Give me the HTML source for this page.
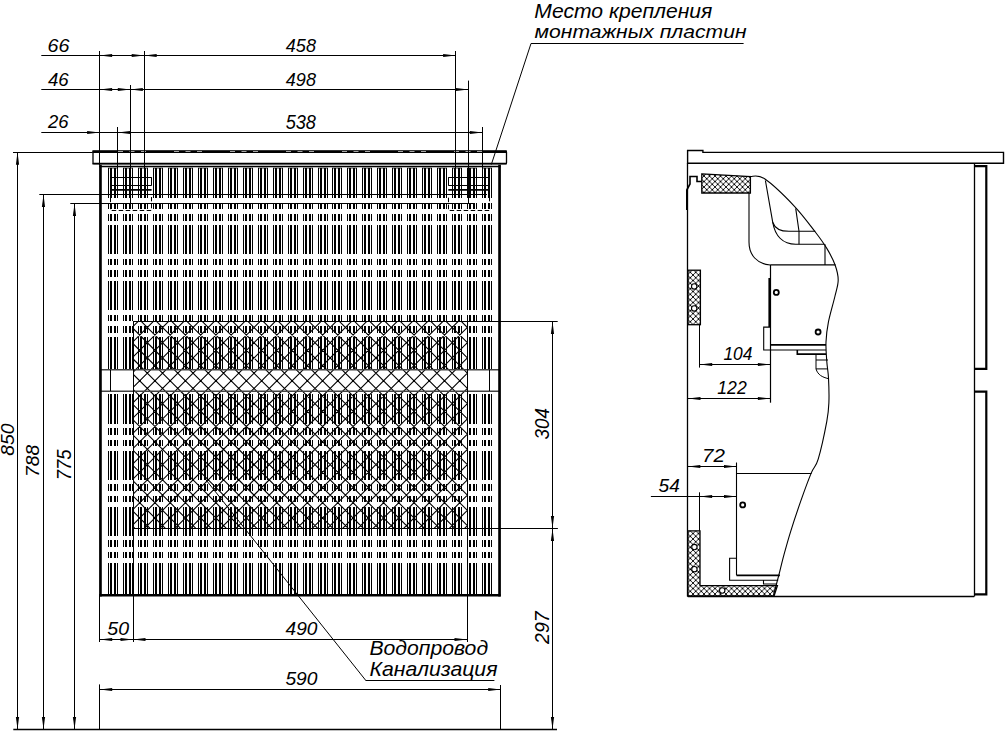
<!DOCTYPE html>
<html><head><meta charset="utf-8"><style>
html,body{margin:0;padding:0;background:#fff;}
svg{display:block;}
text{font-family:"Liberation Sans",sans-serif;font-style:italic;fill:#000;stroke:none;}
</style></head><body>
<svg width="1006" height="733" viewBox="0 0 1006 733">
<rect width="1006" height="733" fill="#fff"/>
<g stroke="#000">
<path fill="#000" stroke="none" shape-rendering="crispEdges" d="M108 168h1V198h-1zM108 203h1V209h-1zM108 214h1V221h-1zM108 225h1V254h-1zM108 259h1V265h-1zM108 270h1V277h-1zM108 281h1V310h-1zM108 315h1V321h-1zM108 326h1V333h-1zM108 337h1V369h-1zM110 168h2V198h-2zM110 203h2V209h-2zM110 214h2V221h-2zM110 225h2V254h-2zM110 259h2V265h-2zM110 270h2V277h-2zM110 281h2V310h-2zM110 315h2V321h-2zM110 326h2V333h-2zM110 337h2V369h-2zM114 168h2V198h-2zM114 203h2V209h-2zM114 214h2V221h-2zM114 225h2V254h-2zM114 259h2V265h-2zM114 270h2V277h-2zM114 281h2V310h-2zM114 315h2V321h-2zM114 326h2V333h-2zM114 337h2V369h-2zM117 168h1V198h-1zM117 203h1V209h-1zM117 214h1V221h-1zM117 225h1V254h-1zM117 259h1V265h-1zM117 270h1V277h-1zM117 281h1V310h-1zM117 315h1V321h-1zM117 326h1V333h-1zM117 337h1V369h-1zM123 168h1V198h-1zM123 203h1V209h-1zM123 214h1V221h-1zM123 225h1V254h-1zM123 259h1V265h-1zM123 270h1V277h-1zM123 281h1V310h-1zM123 315h1V321h-1zM123 326h1V333h-1zM123 337h1V369h-1zM125 168h2V198h-2zM125 203h2V209h-2zM125 214h2V221h-2zM125 225h2V254h-2zM125 259h2V265h-2zM125 270h2V277h-2zM125 281h2V310h-2zM125 315h2V321h-2zM125 326h2V333h-2zM125 337h2V369h-2zM129 168h2V198h-2zM129 203h2V209h-2zM129 214h2V221h-2zM129 225h2V254h-2zM129 259h2V265h-2zM129 270h2V277h-2zM129 281h2V310h-2zM129 315h2V321h-2zM129 326h2V333h-2zM129 337h2V369h-2zM132 168h1V198h-1zM132 203h1V209h-1zM132 214h1V221h-1zM132 225h1V254h-1zM132 259h1V265h-1zM132 270h1V277h-1zM132 281h1V310h-1zM132 315h1V321h-1zM132 326h1V333h-1zM132 337h1V369h-1zM138 168h1V198h-1zM138 203h1V209h-1zM138 214h1V221h-1zM138 225h1V254h-1zM138 259h1V265h-1zM138 270h1V277h-1zM138 281h1V310h-1zM138 315h1V321h-1zM138 326h1V333h-1zM138 337h1V369h-1zM140 168h2V198h-2zM140 203h2V209h-2zM140 214h2V221h-2zM140 225h2V254h-2zM140 259h2V265h-2zM140 270h2V277h-2zM140 281h2V310h-2zM140 315h2V321h-2zM140 326h2V333h-2zM140 337h2V369h-2zM144 168h2V198h-2zM144 203h2V209h-2zM144 214h2V221h-2zM144 225h2V254h-2zM144 259h2V265h-2zM144 270h2V277h-2zM144 281h2V310h-2zM144 315h2V321h-2zM144 326h2V333h-2zM144 337h2V369h-2zM147 168h1V198h-1zM147 203h1V209h-1zM147 214h1V221h-1zM147 225h1V254h-1zM147 259h1V265h-1zM147 270h1V277h-1zM147 281h1V310h-1zM147 315h1V321h-1zM147 326h1V333h-1zM147 337h1V369h-1zM153 168h1V198h-1zM153 203h1V209h-1zM153 214h1V221h-1zM153 225h1V254h-1zM153 259h1V265h-1zM153 270h1V277h-1zM153 281h1V310h-1zM153 315h1V321h-1zM153 326h1V333h-1zM153 337h1V369h-1zM155 168h2V198h-2zM155 203h2V209h-2zM155 214h2V221h-2zM155 225h2V254h-2zM155 259h2V265h-2zM155 270h2V277h-2zM155 281h2V310h-2zM155 315h2V321h-2zM155 326h2V333h-2zM155 337h2V369h-2zM159 168h2V198h-2zM159 203h2V209h-2zM159 214h2V221h-2zM159 225h2V254h-2zM159 259h2V265h-2zM159 270h2V277h-2zM159 281h2V310h-2zM159 315h2V321h-2zM159 326h2V333h-2zM159 337h2V369h-2zM162 168h1V198h-1zM162 203h1V209h-1zM162 214h1V221h-1zM162 225h1V254h-1zM162 259h1V265h-1zM162 270h1V277h-1zM162 281h1V310h-1zM162 315h1V321h-1zM162 326h1V333h-1zM162 337h1V369h-1zM168 168h1V198h-1zM168 203h1V209h-1zM168 214h1V221h-1zM168 225h1V254h-1zM168 259h1V265h-1zM168 270h1V277h-1zM168 281h1V310h-1zM168 315h1V321h-1zM168 326h1V333h-1zM168 337h1V369h-1zM170 168h2V198h-2zM170 203h2V209h-2zM170 214h2V221h-2zM170 225h2V254h-2zM170 259h2V265h-2zM170 270h2V277h-2zM170 281h2V310h-2zM170 315h2V321h-2zM170 326h2V333h-2zM170 337h2V369h-2zM174 168h2V198h-2zM174 203h2V209h-2zM174 214h2V221h-2zM174 225h2V254h-2zM174 259h2V265h-2zM174 270h2V277h-2zM174 281h2V310h-2zM174 315h2V321h-2zM174 326h2V333h-2zM174 337h2V369h-2zM177 168h1V198h-1zM177 203h1V209h-1zM177 214h1V221h-1zM177 225h1V254h-1zM177 259h1V265h-1zM177 270h1V277h-1zM177 281h1V310h-1zM177 315h1V321h-1zM177 326h1V333h-1zM177 337h1V369h-1zM183 168h1V198h-1zM183 203h1V209h-1zM183 214h1V221h-1zM183 225h1V254h-1zM183 259h1V265h-1zM183 270h1V277h-1zM183 281h1V310h-1zM183 315h1V321h-1zM183 326h1V333h-1zM183 337h1V369h-1zM185 168h2V198h-2zM185 203h2V209h-2zM185 214h2V221h-2zM185 225h2V254h-2zM185 259h2V265h-2zM185 270h2V277h-2zM185 281h2V310h-2zM185 315h2V321h-2zM185 326h2V333h-2zM185 337h2V369h-2zM189 168h2V198h-2zM189 203h2V209h-2zM189 214h2V221h-2zM189 225h2V254h-2zM189 259h2V265h-2zM189 270h2V277h-2zM189 281h2V310h-2zM189 315h2V321h-2zM189 326h2V333h-2zM189 337h2V369h-2zM192 168h1V198h-1zM192 203h1V209h-1zM192 214h1V221h-1zM192 225h1V254h-1zM192 259h1V265h-1zM192 270h1V277h-1zM192 281h1V310h-1zM192 315h1V321h-1zM192 326h1V333h-1zM192 337h1V369h-1zM198 168h1V198h-1zM198 203h1V209h-1zM198 214h1V221h-1zM198 225h1V254h-1zM198 259h1V265h-1zM198 270h1V277h-1zM198 281h1V310h-1zM198 315h1V321h-1zM198 326h1V333h-1zM198 337h1V369h-1zM200 168h2V198h-2zM200 203h2V209h-2zM200 214h2V221h-2zM200 225h2V254h-2zM200 259h2V265h-2zM200 270h2V277h-2zM200 281h2V310h-2zM200 315h2V321h-2zM200 326h2V333h-2zM200 337h2V369h-2zM204 168h2V198h-2zM204 203h2V209h-2zM204 214h2V221h-2zM204 225h2V254h-2zM204 259h2V265h-2zM204 270h2V277h-2zM204 281h2V310h-2zM204 315h2V321h-2zM204 326h2V333h-2zM204 337h2V369h-2zM207 168h1V198h-1zM207 203h1V209h-1zM207 214h1V221h-1zM207 225h1V254h-1zM207 259h1V265h-1zM207 270h1V277h-1zM207 281h1V310h-1zM207 315h1V321h-1zM207 326h1V333h-1zM207 337h1V369h-1zM213 168h1V198h-1zM213 203h1V209h-1zM213 214h1V221h-1zM213 225h1V254h-1zM213 259h1V265h-1zM213 270h1V277h-1zM213 281h1V310h-1zM213 315h1V321h-1zM213 326h1V333h-1zM213 337h1V369h-1zM215 168h2V198h-2zM215 203h2V209h-2zM215 214h2V221h-2zM215 225h2V254h-2zM215 259h2V265h-2zM215 270h2V277h-2zM215 281h2V310h-2zM215 315h2V321h-2zM215 326h2V333h-2zM215 337h2V369h-2zM219 168h2V198h-2zM219 203h2V209h-2zM219 214h2V221h-2zM219 225h2V254h-2zM219 259h2V265h-2zM219 270h2V277h-2zM219 281h2V310h-2zM219 315h2V321h-2zM219 326h2V333h-2zM219 337h2V369h-2zM222 168h1V198h-1zM222 203h1V209h-1zM222 214h1V221h-1zM222 225h1V254h-1zM222 259h1V265h-1zM222 270h1V277h-1zM222 281h1V310h-1zM222 315h1V321h-1zM222 326h1V333h-1zM222 337h1V369h-1zM228 168h1V198h-1zM228 203h1V209h-1zM228 214h1V221h-1zM228 225h1V254h-1zM228 259h1V265h-1zM228 270h1V277h-1zM228 281h1V310h-1zM228 315h1V321h-1zM228 326h1V333h-1zM228 337h1V369h-1zM230 168h2V198h-2zM230 203h2V209h-2zM230 214h2V221h-2zM230 225h2V254h-2zM230 259h2V265h-2zM230 270h2V277h-2zM230 281h2V310h-2zM230 315h2V321h-2zM230 326h2V333h-2zM230 337h2V369h-2zM234 168h2V198h-2zM234 203h2V209h-2zM234 214h2V221h-2zM234 225h2V254h-2zM234 259h2V265h-2zM234 270h2V277h-2zM234 281h2V310h-2zM234 315h2V321h-2zM234 326h2V333h-2zM234 337h2V369h-2zM237 168h1V198h-1zM237 203h1V209h-1zM237 214h1V221h-1zM237 225h1V254h-1zM237 259h1V265h-1zM237 270h1V277h-1zM237 281h1V310h-1zM237 315h1V321h-1zM237 326h1V333h-1zM237 337h1V369h-1zM243 168h1V198h-1zM243 203h1V209h-1zM243 214h1V221h-1zM243 225h1V254h-1zM243 259h1V265h-1zM243 270h1V277h-1zM243 281h1V310h-1zM243 315h1V321h-1zM243 326h1V333h-1zM243 337h1V369h-1zM245 168h2V198h-2zM245 203h2V209h-2zM245 214h2V221h-2zM245 225h2V254h-2zM245 259h2V265h-2zM245 270h2V277h-2zM245 281h2V310h-2zM245 315h2V321h-2zM245 326h2V333h-2zM245 337h2V369h-2zM249 168h2V198h-2zM249 203h2V209h-2zM249 214h2V221h-2zM249 225h2V254h-2zM249 259h2V265h-2zM249 270h2V277h-2zM249 281h2V310h-2zM249 315h2V321h-2zM249 326h2V333h-2zM249 337h2V369h-2zM252 168h1V198h-1zM252 203h1V209h-1zM252 214h1V221h-1zM252 225h1V254h-1zM252 259h1V265h-1zM252 270h1V277h-1zM252 281h1V310h-1zM252 315h1V321h-1zM252 326h1V333h-1zM252 337h1V369h-1zM258 168h1V198h-1zM258 203h1V209h-1zM258 214h1V221h-1zM258 225h1V254h-1zM258 259h1V265h-1zM258 270h1V277h-1zM258 281h1V310h-1zM258 315h1V321h-1zM258 326h1V333h-1zM258 337h1V369h-1zM260 168h2V198h-2zM260 203h2V209h-2zM260 214h2V221h-2zM260 225h2V254h-2zM260 259h2V265h-2zM260 270h2V277h-2zM260 281h2V310h-2zM260 315h2V321h-2zM260 326h2V333h-2zM260 337h2V369h-2zM264 168h2V198h-2zM264 203h2V209h-2zM264 214h2V221h-2zM264 225h2V254h-2zM264 259h2V265h-2zM264 270h2V277h-2zM264 281h2V310h-2zM264 315h2V321h-2zM264 326h2V333h-2zM264 337h2V369h-2zM267 168h1V198h-1zM267 203h1V209h-1zM267 214h1V221h-1zM267 225h1V254h-1zM267 259h1V265h-1zM267 270h1V277h-1zM267 281h1V310h-1zM267 315h1V321h-1zM267 326h1V333h-1zM267 337h1V369h-1zM273 168h1V198h-1zM273 203h1V209h-1zM273 214h1V221h-1zM273 225h1V254h-1zM273 259h1V265h-1zM273 270h1V277h-1zM273 281h1V310h-1zM273 315h1V321h-1zM273 326h1V333h-1zM273 337h1V369h-1zM275 168h2V198h-2zM275 203h2V209h-2zM275 214h2V221h-2zM275 225h2V254h-2zM275 259h2V265h-2zM275 270h2V277h-2zM275 281h2V310h-2zM275 315h2V321h-2zM275 326h2V333h-2zM275 337h2V369h-2zM279 168h2V198h-2zM279 203h2V209h-2zM279 214h2V221h-2zM279 225h2V254h-2zM279 259h2V265h-2zM279 270h2V277h-2zM279 281h2V310h-2zM279 315h2V321h-2zM279 326h2V333h-2zM279 337h2V369h-2zM282 168h1V198h-1zM282 203h1V209h-1zM282 214h1V221h-1zM282 225h1V254h-1zM282 259h1V265h-1zM282 270h1V277h-1zM282 281h1V310h-1zM282 315h1V321h-1zM282 326h1V333h-1zM282 337h1V369h-1zM288 168h1V198h-1zM288 203h1V209h-1zM288 214h1V221h-1zM288 225h1V254h-1zM288 259h1V265h-1zM288 270h1V277h-1zM288 281h1V310h-1zM288 315h1V321h-1zM288 326h1V333h-1zM288 337h1V369h-1zM290 168h2V198h-2zM290 203h2V209h-2zM290 214h2V221h-2zM290 225h2V254h-2zM290 259h2V265h-2zM290 270h2V277h-2zM290 281h2V310h-2zM290 315h2V321h-2zM290 326h2V333h-2zM290 337h2V369h-2zM294 168h2V198h-2zM294 203h2V209h-2zM294 214h2V221h-2zM294 225h2V254h-2zM294 259h2V265h-2zM294 270h2V277h-2zM294 281h2V310h-2zM294 315h2V321h-2zM294 326h2V333h-2zM294 337h2V369h-2zM297 168h1V198h-1zM297 203h1V209h-1zM297 214h1V221h-1zM297 225h1V254h-1zM297 259h1V265h-1zM297 270h1V277h-1zM297 281h1V310h-1zM297 315h1V321h-1zM297 326h1V333h-1zM297 337h1V369h-1zM303 168h1V198h-1zM303 203h1V209h-1zM303 214h1V221h-1zM303 225h1V254h-1zM303 259h1V265h-1zM303 270h1V277h-1zM303 281h1V310h-1zM303 315h1V321h-1zM303 326h1V333h-1zM303 337h1V369h-1zM305 168h2V198h-2zM305 203h2V209h-2zM305 214h2V221h-2zM305 225h2V254h-2zM305 259h2V265h-2zM305 270h2V277h-2zM305 281h2V310h-2zM305 315h2V321h-2zM305 326h2V333h-2zM305 337h2V369h-2zM309 168h2V198h-2zM309 203h2V209h-2zM309 214h2V221h-2zM309 225h2V254h-2zM309 259h2V265h-2zM309 270h2V277h-2zM309 281h2V310h-2zM309 315h2V321h-2zM309 326h2V333h-2zM309 337h2V369h-2zM312 168h1V198h-1zM312 203h1V209h-1zM312 214h1V221h-1zM312 225h1V254h-1zM312 259h1V265h-1zM312 270h1V277h-1zM312 281h1V310h-1zM312 315h1V321h-1zM312 326h1V333h-1zM312 337h1V369h-1zM318 168h1V198h-1zM318 203h1V209h-1zM318 214h1V221h-1zM318 225h1V254h-1zM318 259h1V265h-1zM318 270h1V277h-1zM318 281h1V310h-1zM318 315h1V321h-1zM318 326h1V333h-1zM318 337h1V369h-1zM320 168h2V198h-2zM320 203h2V209h-2zM320 214h2V221h-2zM320 225h2V254h-2zM320 259h2V265h-2zM320 270h2V277h-2zM320 281h2V310h-2zM320 315h2V321h-2zM320 326h2V333h-2zM320 337h2V369h-2zM324 168h2V198h-2zM324 203h2V209h-2zM324 214h2V221h-2zM324 225h2V254h-2zM324 259h2V265h-2zM324 270h2V277h-2zM324 281h2V310h-2zM324 315h2V321h-2zM324 326h2V333h-2zM324 337h2V369h-2zM327 168h1V198h-1zM327 203h1V209h-1zM327 214h1V221h-1zM327 225h1V254h-1zM327 259h1V265h-1zM327 270h1V277h-1zM327 281h1V310h-1zM327 315h1V321h-1zM327 326h1V333h-1zM327 337h1V369h-1zM332 168h1V198h-1zM332 203h1V209h-1zM332 214h1V221h-1zM332 225h1V254h-1zM332 259h1V265h-1zM332 270h1V277h-1zM332 281h1V310h-1zM332 315h1V321h-1zM332 326h1V333h-1zM332 337h1V369h-1zM334 168h2V198h-2zM334 203h2V209h-2zM334 214h2V221h-2zM334 225h2V254h-2zM334 259h2V265h-2zM334 270h2V277h-2zM334 281h2V310h-2zM334 315h2V321h-2zM334 326h2V333h-2zM334 337h2V369h-2zM338 168h2V198h-2zM338 203h2V209h-2zM338 214h2V221h-2zM338 225h2V254h-2zM338 259h2V265h-2zM338 270h2V277h-2zM338 281h2V310h-2zM338 315h2V321h-2zM338 326h2V333h-2zM338 337h2V369h-2zM341 168h1V198h-1zM341 203h1V209h-1zM341 214h1V221h-1zM341 225h1V254h-1zM341 259h1V265h-1zM341 270h1V277h-1zM341 281h1V310h-1zM341 315h1V321h-1zM341 326h1V333h-1zM341 337h1V369h-1zM347 168h1V198h-1zM347 203h1V209h-1zM347 214h1V221h-1zM347 225h1V254h-1zM347 259h1V265h-1zM347 270h1V277h-1zM347 281h1V310h-1zM347 315h1V321h-1zM347 326h1V333h-1zM347 337h1V369h-1zM349 168h2V198h-2zM349 203h2V209h-2zM349 214h2V221h-2zM349 225h2V254h-2zM349 259h2V265h-2zM349 270h2V277h-2zM349 281h2V310h-2zM349 315h2V321h-2zM349 326h2V333h-2zM349 337h2V369h-2zM353 168h2V198h-2zM353 203h2V209h-2zM353 214h2V221h-2zM353 225h2V254h-2zM353 259h2V265h-2zM353 270h2V277h-2zM353 281h2V310h-2zM353 315h2V321h-2zM353 326h2V333h-2zM353 337h2V369h-2zM356 168h1V198h-1zM356 203h1V209h-1zM356 214h1V221h-1zM356 225h1V254h-1zM356 259h1V265h-1zM356 270h1V277h-1zM356 281h1V310h-1zM356 315h1V321h-1zM356 326h1V333h-1zM356 337h1V369h-1zM362 168h1V198h-1zM362 203h1V209h-1zM362 214h1V221h-1zM362 225h1V254h-1zM362 259h1V265h-1zM362 270h1V277h-1zM362 281h1V310h-1zM362 315h1V321h-1zM362 326h1V333h-1zM362 337h1V369h-1zM364 168h2V198h-2zM364 203h2V209h-2zM364 214h2V221h-2zM364 225h2V254h-2zM364 259h2V265h-2zM364 270h2V277h-2zM364 281h2V310h-2zM364 315h2V321h-2zM364 326h2V333h-2zM364 337h2V369h-2zM368 168h2V198h-2zM368 203h2V209h-2zM368 214h2V221h-2zM368 225h2V254h-2zM368 259h2V265h-2zM368 270h2V277h-2zM368 281h2V310h-2zM368 315h2V321h-2zM368 326h2V333h-2zM368 337h2V369h-2zM371 168h1V198h-1zM371 203h1V209h-1zM371 214h1V221h-1zM371 225h1V254h-1zM371 259h1V265h-1zM371 270h1V277h-1zM371 281h1V310h-1zM371 315h1V321h-1zM371 326h1V333h-1zM371 337h1V369h-1zM377 168h1V198h-1zM377 203h1V209h-1zM377 214h1V221h-1zM377 225h1V254h-1zM377 259h1V265h-1zM377 270h1V277h-1zM377 281h1V310h-1zM377 315h1V321h-1zM377 326h1V333h-1zM377 337h1V369h-1zM379 168h2V198h-2zM379 203h2V209h-2zM379 214h2V221h-2zM379 225h2V254h-2zM379 259h2V265h-2zM379 270h2V277h-2zM379 281h2V310h-2zM379 315h2V321h-2zM379 326h2V333h-2zM379 337h2V369h-2zM383 168h2V198h-2zM383 203h2V209h-2zM383 214h2V221h-2zM383 225h2V254h-2zM383 259h2V265h-2zM383 270h2V277h-2zM383 281h2V310h-2zM383 315h2V321h-2zM383 326h2V333h-2zM383 337h2V369h-2zM386 168h1V198h-1zM386 203h1V209h-1zM386 214h1V221h-1zM386 225h1V254h-1zM386 259h1V265h-1zM386 270h1V277h-1zM386 281h1V310h-1zM386 315h1V321h-1zM386 326h1V333h-1zM386 337h1V369h-1zM392 168h1V198h-1zM392 203h1V209h-1zM392 214h1V221h-1zM392 225h1V254h-1zM392 259h1V265h-1zM392 270h1V277h-1zM392 281h1V310h-1zM392 315h1V321h-1zM392 326h1V333h-1zM392 337h1V369h-1zM394 168h2V198h-2zM394 203h2V209h-2zM394 214h2V221h-2zM394 225h2V254h-2zM394 259h2V265h-2zM394 270h2V277h-2zM394 281h2V310h-2zM394 315h2V321h-2zM394 326h2V333h-2zM394 337h2V369h-2zM398 168h2V198h-2zM398 203h2V209h-2zM398 214h2V221h-2zM398 225h2V254h-2zM398 259h2V265h-2zM398 270h2V277h-2zM398 281h2V310h-2zM398 315h2V321h-2zM398 326h2V333h-2zM398 337h2V369h-2zM401 168h1V198h-1zM401 203h1V209h-1zM401 214h1V221h-1zM401 225h1V254h-1zM401 259h1V265h-1zM401 270h1V277h-1zM401 281h1V310h-1zM401 315h1V321h-1zM401 326h1V333h-1zM401 337h1V369h-1zM407 168h1V198h-1zM407 203h1V209h-1zM407 214h1V221h-1zM407 225h1V254h-1zM407 259h1V265h-1zM407 270h1V277h-1zM407 281h1V310h-1zM407 315h1V321h-1zM407 326h1V333h-1zM407 337h1V369h-1zM409 168h2V198h-2zM409 203h2V209h-2zM409 214h2V221h-2zM409 225h2V254h-2zM409 259h2V265h-2zM409 270h2V277h-2zM409 281h2V310h-2zM409 315h2V321h-2zM409 326h2V333h-2zM409 337h2V369h-2zM413 168h2V198h-2zM413 203h2V209h-2zM413 214h2V221h-2zM413 225h2V254h-2zM413 259h2V265h-2zM413 270h2V277h-2zM413 281h2V310h-2zM413 315h2V321h-2zM413 326h2V333h-2zM413 337h2V369h-2zM416 168h1V198h-1zM416 203h1V209h-1zM416 214h1V221h-1zM416 225h1V254h-1zM416 259h1V265h-1zM416 270h1V277h-1zM416 281h1V310h-1zM416 315h1V321h-1zM416 326h1V333h-1zM416 337h1V369h-1zM422 168h1V198h-1zM422 203h1V209h-1zM422 214h1V221h-1zM422 225h1V254h-1zM422 259h1V265h-1zM422 270h1V277h-1zM422 281h1V310h-1zM422 315h1V321h-1zM422 326h1V333h-1zM422 337h1V369h-1zM424 168h2V198h-2zM424 203h2V209h-2zM424 214h2V221h-2zM424 225h2V254h-2zM424 259h2V265h-2zM424 270h2V277h-2zM424 281h2V310h-2zM424 315h2V321h-2zM424 326h2V333h-2zM424 337h2V369h-2zM428 168h2V198h-2zM428 203h2V209h-2zM428 214h2V221h-2zM428 225h2V254h-2zM428 259h2V265h-2zM428 270h2V277h-2zM428 281h2V310h-2zM428 315h2V321h-2zM428 326h2V333h-2zM428 337h2V369h-2zM431 168h1V198h-1zM431 203h1V209h-1zM431 214h1V221h-1zM431 225h1V254h-1zM431 259h1V265h-1zM431 270h1V277h-1zM431 281h1V310h-1zM431 315h1V321h-1zM431 326h1V333h-1zM431 337h1V369h-1zM437 168h1V198h-1zM437 203h1V209h-1zM437 214h1V221h-1zM437 225h1V254h-1zM437 259h1V265h-1zM437 270h1V277h-1zM437 281h1V310h-1zM437 315h1V321h-1zM437 326h1V333h-1zM437 337h1V369h-1zM439 168h2V198h-2zM439 203h2V209h-2zM439 214h2V221h-2zM439 225h2V254h-2zM439 259h2V265h-2zM439 270h2V277h-2zM439 281h2V310h-2zM439 315h2V321h-2zM439 326h2V333h-2zM439 337h2V369h-2zM443 168h2V198h-2zM443 203h2V209h-2zM443 214h2V221h-2zM443 225h2V254h-2zM443 259h2V265h-2zM443 270h2V277h-2zM443 281h2V310h-2zM443 315h2V321h-2zM443 326h2V333h-2zM443 337h2V369h-2zM446 168h1V198h-1zM446 203h1V209h-1zM446 214h1V221h-1zM446 225h1V254h-1zM446 259h1V265h-1zM446 270h1V277h-1zM446 281h1V310h-1zM446 315h1V321h-1zM446 326h1V333h-1zM446 337h1V369h-1zM452 168h1V198h-1zM452 203h1V209h-1zM452 214h1V221h-1zM452 225h1V254h-1zM452 259h1V265h-1zM452 270h1V277h-1zM452 281h1V310h-1zM452 315h1V321h-1zM452 326h1V333h-1zM452 337h1V369h-1zM454 168h2V198h-2zM454 203h2V209h-2zM454 214h2V221h-2zM454 225h2V254h-2zM454 259h2V265h-2zM454 270h2V277h-2zM454 281h2V310h-2zM454 315h2V321h-2zM454 326h2V333h-2zM454 337h2V369h-2zM458 168h2V198h-2zM458 203h2V209h-2zM458 214h2V221h-2zM458 225h2V254h-2zM458 259h2V265h-2zM458 270h2V277h-2zM458 281h2V310h-2zM458 315h2V321h-2zM458 326h2V333h-2zM458 337h2V369h-2zM461 168h1V198h-1zM461 203h1V209h-1zM461 214h1V221h-1zM461 225h1V254h-1zM461 259h1V265h-1zM461 270h1V277h-1zM461 281h1V310h-1zM461 315h1V321h-1zM461 326h1V333h-1zM461 337h1V369h-1zM467 168h1V198h-1zM467 203h1V209h-1zM467 214h1V221h-1zM467 225h1V254h-1zM467 259h1V265h-1zM467 270h1V277h-1zM467 281h1V310h-1zM467 315h1V321h-1zM467 326h1V333h-1zM467 337h1V369h-1zM469 168h2V198h-2zM469 203h2V209h-2zM469 214h2V221h-2zM469 225h2V254h-2zM469 259h2V265h-2zM469 270h2V277h-2zM469 281h2V310h-2zM469 315h2V321h-2zM469 326h2V333h-2zM469 337h2V369h-2zM473 168h2V198h-2zM473 203h2V209h-2zM473 214h2V221h-2zM473 225h2V254h-2zM473 259h2V265h-2zM473 270h2V277h-2zM473 281h2V310h-2zM473 315h2V321h-2zM473 326h2V333h-2zM473 337h2V369h-2zM476 168h1V198h-1zM476 203h1V209h-1zM476 214h1V221h-1zM476 225h1V254h-1zM476 259h1V265h-1zM476 270h1V277h-1zM476 281h1V310h-1zM476 315h1V321h-1zM476 326h1V333h-1zM476 337h1V369h-1zM482 168h1V198h-1zM482 203h1V209h-1zM482 214h1V221h-1zM482 225h1V254h-1zM482 259h1V265h-1zM482 270h1V277h-1zM482 281h1V310h-1zM482 315h1V321h-1zM482 326h1V333h-1zM482 337h1V369h-1zM484 168h2V198h-2zM484 203h2V209h-2zM484 214h2V221h-2zM484 225h2V254h-2zM484 259h2V265h-2zM484 270h2V277h-2zM484 281h2V310h-2zM484 315h2V321h-2zM484 326h2V333h-2zM484 337h2V369h-2zM488 168h2V198h-2zM488 203h2V209h-2zM488 214h2V221h-2zM488 225h2V254h-2zM488 259h2V265h-2zM488 270h2V277h-2zM488 281h2V310h-2zM488 315h2V321h-2zM488 326h2V333h-2zM488 337h2V369h-2zM491 168h1V198h-1zM491 203h1V209h-1zM491 214h1V221h-1zM491 225h1V254h-1zM491 259h1V265h-1zM491 270h1V277h-1zM491 281h1V310h-1zM491 315h1V321h-1zM491 326h1V333h-1zM491 337h1V369h-1zM108 394h1V424h-1zM108 428h1V435h-1zM108 440h1V446h-1zM108 451h1V480h-1zM108 484h1V491h-1zM108 496h1V502h-1zM108 507h1V536h-1zM108 540h1V547h-1zM108 552h1V558h-1zM108 563h1V594h-1zM110 394h2V424h-2zM110 428h2V435h-2zM110 440h2V446h-2zM110 451h2V480h-2zM110 484h2V491h-2zM110 496h2V502h-2zM110 507h2V536h-2zM110 540h2V547h-2zM110 552h2V558h-2zM110 563h2V594h-2zM114 394h2V424h-2zM114 428h2V435h-2zM114 440h2V446h-2zM114 451h2V480h-2zM114 484h2V491h-2zM114 496h2V502h-2zM114 507h2V536h-2zM114 540h2V547h-2zM114 552h2V558h-2zM114 563h2V594h-2zM117 394h1V424h-1zM117 428h1V435h-1zM117 440h1V446h-1zM117 451h1V480h-1zM117 484h1V491h-1zM117 496h1V502h-1zM117 507h1V536h-1zM117 540h1V547h-1zM117 552h1V558h-1zM117 563h1V594h-1zM123 394h1V424h-1zM123 428h1V435h-1zM123 440h1V446h-1zM123 451h1V480h-1zM123 484h1V491h-1zM123 496h1V502h-1zM123 507h1V536h-1zM123 540h1V547h-1zM123 552h1V558h-1zM123 563h1V594h-1zM125 394h2V424h-2zM125 428h2V435h-2zM125 440h2V446h-2zM125 451h2V480h-2zM125 484h2V491h-2zM125 496h2V502h-2zM125 507h2V536h-2zM125 540h2V547h-2zM125 552h2V558h-2zM125 563h2V594h-2zM129 394h2V424h-2zM129 428h2V435h-2zM129 440h2V446h-2zM129 451h2V480h-2zM129 484h2V491h-2zM129 496h2V502h-2zM129 507h2V536h-2zM129 540h2V547h-2zM129 552h2V558h-2zM129 563h2V594h-2zM132 394h1V424h-1zM132 428h1V435h-1zM132 440h1V446h-1zM132 451h1V480h-1zM132 484h1V491h-1zM132 496h1V502h-1zM132 507h1V536h-1zM132 540h1V547h-1zM132 552h1V558h-1zM132 563h1V594h-1zM138 394h1V424h-1zM138 428h1V435h-1zM138 440h1V446h-1zM138 451h1V480h-1zM138 484h1V491h-1zM138 496h1V502h-1zM138 507h1V536h-1zM138 540h1V547h-1zM138 552h1V558h-1zM138 563h1V594h-1zM140 394h2V424h-2zM140 428h2V435h-2zM140 440h2V446h-2zM140 451h2V480h-2zM140 484h2V491h-2zM140 496h2V502h-2zM140 507h2V536h-2zM140 540h2V547h-2zM140 552h2V558h-2zM140 563h2V594h-2zM144 394h2V424h-2zM144 428h2V435h-2zM144 440h2V446h-2zM144 451h2V480h-2zM144 484h2V491h-2zM144 496h2V502h-2zM144 507h2V536h-2zM144 540h2V547h-2zM144 552h2V558h-2zM144 563h2V594h-2zM147 394h1V424h-1zM147 428h1V435h-1zM147 440h1V446h-1zM147 451h1V480h-1zM147 484h1V491h-1zM147 496h1V502h-1zM147 507h1V536h-1zM147 540h1V547h-1zM147 552h1V558h-1zM147 563h1V594h-1zM153 394h1V424h-1zM153 428h1V435h-1zM153 440h1V446h-1zM153 451h1V480h-1zM153 484h1V491h-1zM153 496h1V502h-1zM153 507h1V536h-1zM153 540h1V547h-1zM153 552h1V558h-1zM153 563h1V594h-1zM155 394h2V424h-2zM155 428h2V435h-2zM155 440h2V446h-2zM155 451h2V480h-2zM155 484h2V491h-2zM155 496h2V502h-2zM155 507h2V536h-2zM155 540h2V547h-2zM155 552h2V558h-2zM155 563h2V594h-2zM159 394h2V424h-2zM159 428h2V435h-2zM159 440h2V446h-2zM159 451h2V480h-2zM159 484h2V491h-2zM159 496h2V502h-2zM159 507h2V536h-2zM159 540h2V547h-2zM159 552h2V558h-2zM159 563h2V594h-2zM162 394h1V424h-1zM162 428h1V435h-1zM162 440h1V446h-1zM162 451h1V480h-1zM162 484h1V491h-1zM162 496h1V502h-1zM162 507h1V536h-1zM162 540h1V547h-1zM162 552h1V558h-1zM162 563h1V594h-1zM168 394h1V424h-1zM168 428h1V435h-1zM168 440h1V446h-1zM168 451h1V480h-1zM168 484h1V491h-1zM168 496h1V502h-1zM168 507h1V536h-1zM168 540h1V547h-1zM168 552h1V558h-1zM168 563h1V594h-1zM170 394h2V424h-2zM170 428h2V435h-2zM170 440h2V446h-2zM170 451h2V480h-2zM170 484h2V491h-2zM170 496h2V502h-2zM170 507h2V536h-2zM170 540h2V547h-2zM170 552h2V558h-2zM170 563h2V594h-2zM174 394h2V424h-2zM174 428h2V435h-2zM174 440h2V446h-2zM174 451h2V480h-2zM174 484h2V491h-2zM174 496h2V502h-2zM174 507h2V536h-2zM174 540h2V547h-2zM174 552h2V558h-2zM174 563h2V594h-2zM177 394h1V424h-1zM177 428h1V435h-1zM177 440h1V446h-1zM177 451h1V480h-1zM177 484h1V491h-1zM177 496h1V502h-1zM177 507h1V536h-1zM177 540h1V547h-1zM177 552h1V558h-1zM177 563h1V594h-1zM183 394h1V424h-1zM183 428h1V435h-1zM183 440h1V446h-1zM183 451h1V480h-1zM183 484h1V491h-1zM183 496h1V502h-1zM183 507h1V536h-1zM183 540h1V547h-1zM183 552h1V558h-1zM183 563h1V594h-1zM185 394h2V424h-2zM185 428h2V435h-2zM185 440h2V446h-2zM185 451h2V480h-2zM185 484h2V491h-2zM185 496h2V502h-2zM185 507h2V536h-2zM185 540h2V547h-2zM185 552h2V558h-2zM185 563h2V594h-2zM189 394h2V424h-2zM189 428h2V435h-2zM189 440h2V446h-2zM189 451h2V480h-2zM189 484h2V491h-2zM189 496h2V502h-2zM189 507h2V536h-2zM189 540h2V547h-2zM189 552h2V558h-2zM189 563h2V594h-2zM192 394h1V424h-1zM192 428h1V435h-1zM192 440h1V446h-1zM192 451h1V480h-1zM192 484h1V491h-1zM192 496h1V502h-1zM192 507h1V536h-1zM192 540h1V547h-1zM192 552h1V558h-1zM192 563h1V594h-1zM198 394h1V424h-1zM198 428h1V435h-1zM198 440h1V446h-1zM198 451h1V480h-1zM198 484h1V491h-1zM198 496h1V502h-1zM198 507h1V536h-1zM198 540h1V547h-1zM198 552h1V558h-1zM198 563h1V594h-1zM200 394h2V424h-2zM200 428h2V435h-2zM200 440h2V446h-2zM200 451h2V480h-2zM200 484h2V491h-2zM200 496h2V502h-2zM200 507h2V536h-2zM200 540h2V547h-2zM200 552h2V558h-2zM200 563h2V594h-2zM204 394h2V424h-2zM204 428h2V435h-2zM204 440h2V446h-2zM204 451h2V480h-2zM204 484h2V491h-2zM204 496h2V502h-2zM204 507h2V536h-2zM204 540h2V547h-2zM204 552h2V558h-2zM204 563h2V594h-2zM207 394h1V424h-1zM207 428h1V435h-1zM207 440h1V446h-1zM207 451h1V480h-1zM207 484h1V491h-1zM207 496h1V502h-1zM207 507h1V536h-1zM207 540h1V547h-1zM207 552h1V558h-1zM207 563h1V594h-1zM213 394h1V424h-1zM213 428h1V435h-1zM213 440h1V446h-1zM213 451h1V480h-1zM213 484h1V491h-1zM213 496h1V502h-1zM213 507h1V536h-1zM213 540h1V547h-1zM213 552h1V558h-1zM213 563h1V594h-1zM215 394h2V424h-2zM215 428h2V435h-2zM215 440h2V446h-2zM215 451h2V480h-2zM215 484h2V491h-2zM215 496h2V502h-2zM215 507h2V536h-2zM215 540h2V547h-2zM215 552h2V558h-2zM215 563h2V594h-2zM219 394h2V424h-2zM219 428h2V435h-2zM219 440h2V446h-2zM219 451h2V480h-2zM219 484h2V491h-2zM219 496h2V502h-2zM219 507h2V536h-2zM219 540h2V547h-2zM219 552h2V558h-2zM219 563h2V594h-2zM222 394h1V424h-1zM222 428h1V435h-1zM222 440h1V446h-1zM222 451h1V480h-1zM222 484h1V491h-1zM222 496h1V502h-1zM222 507h1V536h-1zM222 540h1V547h-1zM222 552h1V558h-1zM222 563h1V594h-1zM228 394h1V424h-1zM228 428h1V435h-1zM228 440h1V446h-1zM228 451h1V480h-1zM228 484h1V491h-1zM228 496h1V502h-1zM228 507h1V536h-1zM228 540h1V547h-1zM228 552h1V558h-1zM228 563h1V594h-1zM230 394h2V424h-2zM230 428h2V435h-2zM230 440h2V446h-2zM230 451h2V480h-2zM230 484h2V491h-2zM230 496h2V502h-2zM230 507h2V536h-2zM230 540h2V547h-2zM230 552h2V558h-2zM230 563h2V594h-2zM234 394h2V424h-2zM234 428h2V435h-2zM234 440h2V446h-2zM234 451h2V480h-2zM234 484h2V491h-2zM234 496h2V502h-2zM234 507h2V536h-2zM234 540h2V547h-2zM234 552h2V558h-2zM234 563h2V594h-2zM237 394h1V424h-1zM237 428h1V435h-1zM237 440h1V446h-1zM237 451h1V480h-1zM237 484h1V491h-1zM237 496h1V502h-1zM237 507h1V536h-1zM237 540h1V547h-1zM237 552h1V558h-1zM237 563h1V594h-1zM243 394h1V424h-1zM243 428h1V435h-1zM243 440h1V446h-1zM243 451h1V480h-1zM243 484h1V491h-1zM243 496h1V502h-1zM243 507h1V536h-1zM243 540h1V547h-1zM243 552h1V558h-1zM243 563h1V594h-1zM245 394h2V424h-2zM245 428h2V435h-2zM245 440h2V446h-2zM245 451h2V480h-2zM245 484h2V491h-2zM245 496h2V502h-2zM245 507h2V536h-2zM245 540h2V547h-2zM245 552h2V558h-2zM245 563h2V594h-2zM249 394h2V424h-2zM249 428h2V435h-2zM249 440h2V446h-2zM249 451h2V480h-2zM249 484h2V491h-2zM249 496h2V502h-2zM249 507h2V536h-2zM249 540h2V547h-2zM249 552h2V558h-2zM249 563h2V594h-2zM252 394h1V424h-1zM252 428h1V435h-1zM252 440h1V446h-1zM252 451h1V480h-1zM252 484h1V491h-1zM252 496h1V502h-1zM252 507h1V536h-1zM252 540h1V547h-1zM252 552h1V558h-1zM252 563h1V594h-1zM258 394h1V424h-1zM258 428h1V435h-1zM258 440h1V446h-1zM258 451h1V480h-1zM258 484h1V491h-1zM258 496h1V502h-1zM258 507h1V536h-1zM258 540h1V547h-1zM258 552h1V558h-1zM258 563h1V594h-1zM260 394h2V424h-2zM260 428h2V435h-2zM260 440h2V446h-2zM260 451h2V480h-2zM260 484h2V491h-2zM260 496h2V502h-2zM260 507h2V536h-2zM260 540h2V547h-2zM260 552h2V558h-2zM260 563h2V594h-2zM264 394h2V424h-2zM264 428h2V435h-2zM264 440h2V446h-2zM264 451h2V480h-2zM264 484h2V491h-2zM264 496h2V502h-2zM264 507h2V536h-2zM264 540h2V547h-2zM264 552h2V558h-2zM264 563h2V594h-2zM267 394h1V424h-1zM267 428h1V435h-1zM267 440h1V446h-1zM267 451h1V480h-1zM267 484h1V491h-1zM267 496h1V502h-1zM267 507h1V536h-1zM267 540h1V547h-1zM267 552h1V558h-1zM267 563h1V594h-1zM273 394h1V424h-1zM273 428h1V435h-1zM273 440h1V446h-1zM273 451h1V480h-1zM273 484h1V491h-1zM273 496h1V502h-1zM273 507h1V536h-1zM273 540h1V547h-1zM273 552h1V558h-1zM273 563h1V594h-1zM275 394h2V424h-2zM275 428h2V435h-2zM275 440h2V446h-2zM275 451h2V480h-2zM275 484h2V491h-2zM275 496h2V502h-2zM275 507h2V536h-2zM275 540h2V547h-2zM275 552h2V558h-2zM275 563h2V594h-2zM279 394h2V424h-2zM279 428h2V435h-2zM279 440h2V446h-2zM279 451h2V480h-2zM279 484h2V491h-2zM279 496h2V502h-2zM279 507h2V536h-2zM279 540h2V547h-2zM279 552h2V558h-2zM279 563h2V594h-2zM282 394h1V424h-1zM282 428h1V435h-1zM282 440h1V446h-1zM282 451h1V480h-1zM282 484h1V491h-1zM282 496h1V502h-1zM282 507h1V536h-1zM282 540h1V547h-1zM282 552h1V558h-1zM282 563h1V594h-1zM288 394h1V424h-1zM288 428h1V435h-1zM288 440h1V446h-1zM288 451h1V480h-1zM288 484h1V491h-1zM288 496h1V502h-1zM288 507h1V536h-1zM288 540h1V547h-1zM288 552h1V558h-1zM288 563h1V594h-1zM290 394h2V424h-2zM290 428h2V435h-2zM290 440h2V446h-2zM290 451h2V480h-2zM290 484h2V491h-2zM290 496h2V502h-2zM290 507h2V536h-2zM290 540h2V547h-2zM290 552h2V558h-2zM290 563h2V594h-2zM294 394h2V424h-2zM294 428h2V435h-2zM294 440h2V446h-2zM294 451h2V480h-2zM294 484h2V491h-2zM294 496h2V502h-2zM294 507h2V536h-2zM294 540h2V547h-2zM294 552h2V558h-2zM294 563h2V594h-2zM297 394h1V424h-1zM297 428h1V435h-1zM297 440h1V446h-1zM297 451h1V480h-1zM297 484h1V491h-1zM297 496h1V502h-1zM297 507h1V536h-1zM297 540h1V547h-1zM297 552h1V558h-1zM297 563h1V594h-1zM303 394h1V424h-1zM303 428h1V435h-1zM303 440h1V446h-1zM303 451h1V480h-1zM303 484h1V491h-1zM303 496h1V502h-1zM303 507h1V536h-1zM303 540h1V547h-1zM303 552h1V558h-1zM303 563h1V594h-1zM305 394h2V424h-2zM305 428h2V435h-2zM305 440h2V446h-2zM305 451h2V480h-2zM305 484h2V491h-2zM305 496h2V502h-2zM305 507h2V536h-2zM305 540h2V547h-2zM305 552h2V558h-2zM305 563h2V594h-2zM309 394h2V424h-2zM309 428h2V435h-2zM309 440h2V446h-2zM309 451h2V480h-2zM309 484h2V491h-2zM309 496h2V502h-2zM309 507h2V536h-2zM309 540h2V547h-2zM309 552h2V558h-2zM309 563h2V594h-2zM312 394h1V424h-1zM312 428h1V435h-1zM312 440h1V446h-1zM312 451h1V480h-1zM312 484h1V491h-1zM312 496h1V502h-1zM312 507h1V536h-1zM312 540h1V547h-1zM312 552h1V558h-1zM312 563h1V594h-1zM318 394h1V424h-1zM318 428h1V435h-1zM318 440h1V446h-1zM318 451h1V480h-1zM318 484h1V491h-1zM318 496h1V502h-1zM318 507h1V536h-1zM318 540h1V547h-1zM318 552h1V558h-1zM318 563h1V594h-1zM320 394h2V424h-2zM320 428h2V435h-2zM320 440h2V446h-2zM320 451h2V480h-2zM320 484h2V491h-2zM320 496h2V502h-2zM320 507h2V536h-2zM320 540h2V547h-2zM320 552h2V558h-2zM320 563h2V594h-2zM324 394h2V424h-2zM324 428h2V435h-2zM324 440h2V446h-2zM324 451h2V480h-2zM324 484h2V491h-2zM324 496h2V502h-2zM324 507h2V536h-2zM324 540h2V547h-2zM324 552h2V558h-2zM324 563h2V594h-2zM327 394h1V424h-1zM327 428h1V435h-1zM327 440h1V446h-1zM327 451h1V480h-1zM327 484h1V491h-1zM327 496h1V502h-1zM327 507h1V536h-1zM327 540h1V547h-1zM327 552h1V558h-1zM327 563h1V594h-1zM332 394h1V424h-1zM332 428h1V435h-1zM332 440h1V446h-1zM332 451h1V480h-1zM332 484h1V491h-1zM332 496h1V502h-1zM332 507h1V536h-1zM332 540h1V547h-1zM332 552h1V558h-1zM332 563h1V594h-1zM334 394h2V424h-2zM334 428h2V435h-2zM334 440h2V446h-2zM334 451h2V480h-2zM334 484h2V491h-2zM334 496h2V502h-2zM334 507h2V536h-2zM334 540h2V547h-2zM334 552h2V558h-2zM334 563h2V594h-2zM338 394h2V424h-2zM338 428h2V435h-2zM338 440h2V446h-2zM338 451h2V480h-2zM338 484h2V491h-2zM338 496h2V502h-2zM338 507h2V536h-2zM338 540h2V547h-2zM338 552h2V558h-2zM338 563h2V594h-2zM341 394h1V424h-1zM341 428h1V435h-1zM341 440h1V446h-1zM341 451h1V480h-1zM341 484h1V491h-1zM341 496h1V502h-1zM341 507h1V536h-1zM341 540h1V547h-1zM341 552h1V558h-1zM341 563h1V594h-1zM347 394h1V424h-1zM347 428h1V435h-1zM347 440h1V446h-1zM347 451h1V480h-1zM347 484h1V491h-1zM347 496h1V502h-1zM347 507h1V536h-1zM347 540h1V547h-1zM347 552h1V558h-1zM347 563h1V594h-1zM349 394h2V424h-2zM349 428h2V435h-2zM349 440h2V446h-2zM349 451h2V480h-2zM349 484h2V491h-2zM349 496h2V502h-2zM349 507h2V536h-2zM349 540h2V547h-2zM349 552h2V558h-2zM349 563h2V594h-2zM353 394h2V424h-2zM353 428h2V435h-2zM353 440h2V446h-2zM353 451h2V480h-2zM353 484h2V491h-2zM353 496h2V502h-2zM353 507h2V536h-2zM353 540h2V547h-2zM353 552h2V558h-2zM353 563h2V594h-2zM356 394h1V424h-1zM356 428h1V435h-1zM356 440h1V446h-1zM356 451h1V480h-1zM356 484h1V491h-1zM356 496h1V502h-1zM356 507h1V536h-1zM356 540h1V547h-1zM356 552h1V558h-1zM356 563h1V594h-1zM362 394h1V424h-1zM362 428h1V435h-1zM362 440h1V446h-1zM362 451h1V480h-1zM362 484h1V491h-1zM362 496h1V502h-1zM362 507h1V536h-1zM362 540h1V547h-1zM362 552h1V558h-1zM362 563h1V594h-1zM364 394h2V424h-2zM364 428h2V435h-2zM364 440h2V446h-2zM364 451h2V480h-2zM364 484h2V491h-2zM364 496h2V502h-2zM364 507h2V536h-2zM364 540h2V547h-2zM364 552h2V558h-2zM364 563h2V594h-2zM368 394h2V424h-2zM368 428h2V435h-2zM368 440h2V446h-2zM368 451h2V480h-2zM368 484h2V491h-2zM368 496h2V502h-2zM368 507h2V536h-2zM368 540h2V547h-2zM368 552h2V558h-2zM368 563h2V594h-2zM371 394h1V424h-1zM371 428h1V435h-1zM371 440h1V446h-1zM371 451h1V480h-1zM371 484h1V491h-1zM371 496h1V502h-1zM371 507h1V536h-1zM371 540h1V547h-1zM371 552h1V558h-1zM371 563h1V594h-1zM377 394h1V424h-1zM377 428h1V435h-1zM377 440h1V446h-1zM377 451h1V480h-1zM377 484h1V491h-1zM377 496h1V502h-1zM377 507h1V536h-1zM377 540h1V547h-1zM377 552h1V558h-1zM377 563h1V594h-1zM379 394h2V424h-2zM379 428h2V435h-2zM379 440h2V446h-2zM379 451h2V480h-2zM379 484h2V491h-2zM379 496h2V502h-2zM379 507h2V536h-2zM379 540h2V547h-2zM379 552h2V558h-2zM379 563h2V594h-2zM383 394h2V424h-2zM383 428h2V435h-2zM383 440h2V446h-2zM383 451h2V480h-2zM383 484h2V491h-2zM383 496h2V502h-2zM383 507h2V536h-2zM383 540h2V547h-2zM383 552h2V558h-2zM383 563h2V594h-2zM386 394h1V424h-1zM386 428h1V435h-1zM386 440h1V446h-1zM386 451h1V480h-1zM386 484h1V491h-1zM386 496h1V502h-1zM386 507h1V536h-1zM386 540h1V547h-1zM386 552h1V558h-1zM386 563h1V594h-1zM392 394h1V424h-1zM392 428h1V435h-1zM392 440h1V446h-1zM392 451h1V480h-1zM392 484h1V491h-1zM392 496h1V502h-1zM392 507h1V536h-1zM392 540h1V547h-1zM392 552h1V558h-1zM392 563h1V594h-1zM394 394h2V424h-2zM394 428h2V435h-2zM394 440h2V446h-2zM394 451h2V480h-2zM394 484h2V491h-2zM394 496h2V502h-2zM394 507h2V536h-2zM394 540h2V547h-2zM394 552h2V558h-2zM394 563h2V594h-2zM398 394h2V424h-2zM398 428h2V435h-2zM398 440h2V446h-2zM398 451h2V480h-2zM398 484h2V491h-2zM398 496h2V502h-2zM398 507h2V536h-2zM398 540h2V547h-2zM398 552h2V558h-2zM398 563h2V594h-2zM401 394h1V424h-1zM401 428h1V435h-1zM401 440h1V446h-1zM401 451h1V480h-1zM401 484h1V491h-1zM401 496h1V502h-1zM401 507h1V536h-1zM401 540h1V547h-1zM401 552h1V558h-1zM401 563h1V594h-1zM407 394h1V424h-1zM407 428h1V435h-1zM407 440h1V446h-1zM407 451h1V480h-1zM407 484h1V491h-1zM407 496h1V502h-1zM407 507h1V536h-1zM407 540h1V547h-1zM407 552h1V558h-1zM407 563h1V594h-1zM409 394h2V424h-2zM409 428h2V435h-2zM409 440h2V446h-2zM409 451h2V480h-2zM409 484h2V491h-2zM409 496h2V502h-2zM409 507h2V536h-2zM409 540h2V547h-2zM409 552h2V558h-2zM409 563h2V594h-2zM413 394h2V424h-2zM413 428h2V435h-2zM413 440h2V446h-2zM413 451h2V480h-2zM413 484h2V491h-2zM413 496h2V502h-2zM413 507h2V536h-2zM413 540h2V547h-2zM413 552h2V558h-2zM413 563h2V594h-2zM416 394h1V424h-1zM416 428h1V435h-1zM416 440h1V446h-1zM416 451h1V480h-1zM416 484h1V491h-1zM416 496h1V502h-1zM416 507h1V536h-1zM416 540h1V547h-1zM416 552h1V558h-1zM416 563h1V594h-1zM422 394h1V424h-1zM422 428h1V435h-1zM422 440h1V446h-1zM422 451h1V480h-1zM422 484h1V491h-1zM422 496h1V502h-1zM422 507h1V536h-1zM422 540h1V547h-1zM422 552h1V558h-1zM422 563h1V594h-1zM424 394h2V424h-2zM424 428h2V435h-2zM424 440h2V446h-2zM424 451h2V480h-2zM424 484h2V491h-2zM424 496h2V502h-2zM424 507h2V536h-2zM424 540h2V547h-2zM424 552h2V558h-2zM424 563h2V594h-2zM428 394h2V424h-2zM428 428h2V435h-2zM428 440h2V446h-2zM428 451h2V480h-2zM428 484h2V491h-2zM428 496h2V502h-2zM428 507h2V536h-2zM428 540h2V547h-2zM428 552h2V558h-2zM428 563h2V594h-2zM431 394h1V424h-1zM431 428h1V435h-1zM431 440h1V446h-1zM431 451h1V480h-1zM431 484h1V491h-1zM431 496h1V502h-1zM431 507h1V536h-1zM431 540h1V547h-1zM431 552h1V558h-1zM431 563h1V594h-1zM437 394h1V424h-1zM437 428h1V435h-1zM437 440h1V446h-1zM437 451h1V480h-1zM437 484h1V491h-1zM437 496h1V502h-1zM437 507h1V536h-1zM437 540h1V547h-1zM437 552h1V558h-1zM437 563h1V594h-1zM439 394h2V424h-2zM439 428h2V435h-2zM439 440h2V446h-2zM439 451h2V480h-2zM439 484h2V491h-2zM439 496h2V502h-2zM439 507h2V536h-2zM439 540h2V547h-2zM439 552h2V558h-2zM439 563h2V594h-2zM443 394h2V424h-2zM443 428h2V435h-2zM443 440h2V446h-2zM443 451h2V480h-2zM443 484h2V491h-2zM443 496h2V502h-2zM443 507h2V536h-2zM443 540h2V547h-2zM443 552h2V558h-2zM443 563h2V594h-2zM446 394h1V424h-1zM446 428h1V435h-1zM446 440h1V446h-1zM446 451h1V480h-1zM446 484h1V491h-1zM446 496h1V502h-1zM446 507h1V536h-1zM446 540h1V547h-1zM446 552h1V558h-1zM446 563h1V594h-1zM452 394h1V424h-1zM452 428h1V435h-1zM452 440h1V446h-1zM452 451h1V480h-1zM452 484h1V491h-1zM452 496h1V502h-1zM452 507h1V536h-1zM452 540h1V547h-1zM452 552h1V558h-1zM452 563h1V594h-1zM454 394h2V424h-2zM454 428h2V435h-2zM454 440h2V446h-2zM454 451h2V480h-2zM454 484h2V491h-2zM454 496h2V502h-2zM454 507h2V536h-2zM454 540h2V547h-2zM454 552h2V558h-2zM454 563h2V594h-2zM458 394h2V424h-2zM458 428h2V435h-2zM458 440h2V446h-2zM458 451h2V480h-2zM458 484h2V491h-2zM458 496h2V502h-2zM458 507h2V536h-2zM458 540h2V547h-2zM458 552h2V558h-2zM458 563h2V594h-2zM461 394h1V424h-1zM461 428h1V435h-1zM461 440h1V446h-1zM461 451h1V480h-1zM461 484h1V491h-1zM461 496h1V502h-1zM461 507h1V536h-1zM461 540h1V547h-1zM461 552h1V558h-1zM461 563h1V594h-1zM467 394h1V424h-1zM467 428h1V435h-1zM467 440h1V446h-1zM467 451h1V480h-1zM467 484h1V491h-1zM467 496h1V502h-1zM467 507h1V536h-1zM467 540h1V547h-1zM467 552h1V558h-1zM467 563h1V594h-1zM469 394h2V424h-2zM469 428h2V435h-2zM469 440h2V446h-2zM469 451h2V480h-2zM469 484h2V491h-2zM469 496h2V502h-2zM469 507h2V536h-2zM469 540h2V547h-2zM469 552h2V558h-2zM469 563h2V594h-2zM473 394h2V424h-2zM473 428h2V435h-2zM473 440h2V446h-2zM473 451h2V480h-2zM473 484h2V491h-2zM473 496h2V502h-2zM473 507h2V536h-2zM473 540h2V547h-2zM473 552h2V558h-2zM473 563h2V594h-2zM476 394h1V424h-1zM476 428h1V435h-1zM476 440h1V446h-1zM476 451h1V480h-1zM476 484h1V491h-1zM476 496h1V502h-1zM476 507h1V536h-1zM476 540h1V547h-1zM476 552h1V558h-1zM476 563h1V594h-1zM482 394h1V424h-1zM482 428h1V435h-1zM482 440h1V446h-1zM482 451h1V480h-1zM482 484h1V491h-1zM482 496h1V502h-1zM482 507h1V536h-1zM482 540h1V547h-1zM482 552h1V558h-1zM482 563h1V594h-1zM484 394h2V424h-2zM484 428h2V435h-2zM484 440h2V446h-2zM484 451h2V480h-2zM484 484h2V491h-2zM484 496h2V502h-2zM484 507h2V536h-2zM484 540h2V547h-2zM484 552h2V558h-2zM484 563h2V594h-2zM488 394h2V424h-2zM488 428h2V435h-2zM488 440h2V446h-2zM488 451h2V480h-2zM488 484h2V491h-2zM488 496h2V502h-2zM488 507h2V536h-2zM488 540h2V547h-2zM488 552h2V558h-2zM488 563h2V594h-2zM491 394h1V424h-1zM491 428h1V435h-1zM491 440h1V446h-1zM491 451h1V480h-1zM491 484h1V491h-1zM491 496h1V502h-1zM491 507h1V536h-1zM491 540h1V547h-1zM491 552h1V558h-1zM491 563h1V594h-1z"/>
<path fill="#000" fill-opacity="0.55" stroke="none" d="M108 167.5h10v1.2h-10zM123 167.5h10v1.2h-10zM138 167.5h10v1.2h-10zM153 167.5h10v1.2h-10zM168 167.5h10v1.2h-10zM183 167.5h10v1.2h-10zM198 167.5h10v1.2h-10zM213 167.5h10v1.2h-10zM228 167.5h10v1.2h-10zM243 167.5h10v1.2h-10zM258 167.5h10v1.2h-10zM273 167.5h10v1.2h-10zM288 167.5h10v1.2h-10zM303 167.5h10v1.2h-10zM318 167.5h10v1.2h-10zM332 167.5h10v1.2h-10zM347 167.5h10v1.2h-10zM362 167.5h10v1.2h-10zM377 167.5h10v1.2h-10zM392 167.5h10v1.2h-10zM407 167.5h10v1.2h-10zM422 167.5h10v1.2h-10zM437 167.5h10v1.2h-10zM452 167.5h10v1.2h-10zM467 167.5h10v1.2h-10zM482 167.5h10v1.2h-10z"/>
<clipPath id="hc"><rect x="133" y="321.4" width="334" height="207"/></clipPath>
<g clip-path="url(#hc)"><path fill="none" stroke="#000" stroke-width="1.1" d="M-167 -535.5L767 398.5M-167 77.9L767 -856.1M-167 -520.26L767 413.74M-167 93.14L767 -840.86M-167 -505.02L767 428.98M-167 108.38L767 -825.62M-167 -489.78L767 444.22M-167 123.62L767 -810.38M-167 -474.54L767 459.46M-167 138.86L767 -795.14M-167 -459.3L767 474.7M-167 154.1L767 -779.9M-167 -444.06L767 489.94M-167 169.34L767 -764.66M-167 -428.82L767 505.18M-167 184.58L767 -749.42M-167 -413.58L767 520.42M-167 199.82L767 -734.18M-167 -398.34L767 535.66M-167 215.06L767 -718.94M-167 -383.1L767 550.9M-167 230.3L767 -703.7M-167 -367.86L767 566.14M-167 245.54L767 -688.46M-167 -352.62L767 581.38M-167 260.78L767 -673.22M-167 -337.38L767 596.62M-167 276.02L767 -657.98M-167 -322.14L767 611.86M-167 291.26L767 -642.74M-167 -306.9L767 627.1M-167 306.5L767 -627.5M-167 -291.66L767 642.34M-167 321.74L767 -612.26M-167 -276.42L767 657.58M-167 336.98L767 -597.02M-167 -261.18L767 672.82M-167 352.22L767 -581.78M-167 -245.94L767 688.06M-167 367.46L767 -566.54M-167 -230.7L767 703.3M-167 382.7L767 -551.3M-167 -215.46L767 718.54M-167 397.94L767 -536.06M-167 -200.22L767 733.78M-167 413.18L767 -520.82M-167 -184.98L767 749.02M-167 428.42L767 -505.58M-167 -169.74L767 764.26M-167 443.66L767 -490.34M-167 -154.5L767 779.5M-167 458.9L767 -475.1M-167 -139.26L767 794.74M-167 474.14L767 -459.86M-167 -124.02L767 809.98M-167 489.38L767 -444.62M-167 -108.78L767 825.22M-167 504.62L767 -429.38M-167 -93.54L767 840.46M-167 519.86L767 -414.14M-167 -78.3L767 855.7M-167 535.1L767 -398.9M-167 -63.06L767 870.94M-167 550.34L767 -383.66M-167 -47.82L767 886.18M-167 565.58L767 -368.42M-167 -32.58L767 901.42M-167 580.82L767 -353.18M-167 -17.34L767 916.66M-167 596.06L767 -337.94M-167 -2.1L767 931.9M-167 611.3L767 -322.7M-167 13.14L767 947.14M-167 626.54L767 -307.46M-167 28.38L767 962.38M-167 641.78L767 -292.22M-167 43.62L767 977.62M-167 657.02L767 -276.98M-167 58.86L767 992.86M-167 672.26L767 -261.74M-167 74.1L767 1008.1M-167 687.5L767 -246.5M-167 89.34L767 1023.34M-167 702.74L767 -231.26M-167 104.58L767 1038.58M-167 717.98L767 -216.02M-167 119.82L767 1053.82M-167 733.22L767 -200.78M-167 135.06L767 1069.06M-167 748.46L767 -185.54M-167 150.3L767 1084.3M-167 763.7L767 -170.3M-167 165.54L767 1099.54M-167 778.94L767 -155.06M-167 180.78L767 1114.78M-167 794.18L767 -139.82M-167 196.02L767 1130.02M-167 809.42L767 -124.58M-167 211.26L767 1145.26M-167 824.66L767 -109.34M-167 226.5L767 1160.5M-167 839.9L767 -94.1M-167 241.74L767 1175.74M-167 855.14L767 -78.86M-167 256.98L767 1190.98M-167 870.38L767 -63.62M-167 272.22L767 1206.22M-167 885.62L767 -48.38M-167 287.46L767 1221.46M-167 900.86L767 -33.14M-167 302.7L767 1236.7M-167 916.1L767 -17.9M-167 317.94L767 1251.94M-167 931.34L767 -2.66M-167 333.18L767 1267.18M-167 946.58L767 12.58M-167 348.42L767 1282.42M-167 961.82L767 27.82M-167 363.66L767 1297.66M-167 977.06L767 43.06M-167 378.9L767 1312.9M-167 992.3L767 58.3M-167 394.14L767 1328.14M-167 1007.54L767 73.54M-167 409.38L767 1343.38M-167 1022.78L767 88.78M-167 424.62L767 1358.62M-167 1038.02L767 104.02M-167 439.86L767 1373.86M-167 1053.26L767 119.26M-167 455.1L767 1389.1M-167 1068.5L767 134.5M-167 470.34L767 1404.34M-167 1083.74L767 149.74M-167 485.58L767 1419.58M-167 1098.98L767 164.98M-167 500.82L767 1434.82M-167 1114.22L767 180.22M-167 516.06L767 1450.06M-167 1129.46L767 195.46M-167 531.3L767 1465.3M-167 1144.7L767 210.7M-167 546.54L767 1480.54M-167 1159.94L767 225.94M-167 561.78L767 1495.78M-167 1175.18L767 241.18M-167 577.02L767 1511.02M-167 1190.42L767 256.42M-167 592.26L767 1526.26M-167 1205.66L767 271.66M-167 607.5L767 1541.5M-167 1220.9L767 286.9M-167 622.74L767 1556.74M-167 1236.14L767 302.14M-167 637.98L767 1571.98M-167 1251.38L767 317.38M-167 653.22L767 1587.22M-167 1266.62L767 332.62M-167 668.46L767 1602.46M-167 1281.86L767 347.86"/></g>
<rect x="101.5" y="369.5" width="396.6" height="21.5" fill="#fff" stroke="none"/>
<clipPath id="bc"><rect x="133" y="369.5" width="334" height="21.5"/></clipPath>
<g clip-path="url(#bc)"><path fill="none" stroke="#000" stroke-width="1.1" d="M-167 -535.5L767 398.5M-167 77.9L767 -856.1M-167 -520.26L767 413.74M-167 93.14L767 -840.86M-167 -505.02L767 428.98M-167 108.38L767 -825.62M-167 -489.78L767 444.22M-167 123.62L767 -810.38M-167 -474.54L767 459.46M-167 138.86L767 -795.14M-167 -459.3L767 474.7M-167 154.1L767 -779.9M-167 -444.06L767 489.94M-167 169.34L767 -764.66M-167 -428.82L767 505.18M-167 184.58L767 -749.42M-167 -413.58L767 520.42M-167 199.82L767 -734.18M-167 -398.34L767 535.66M-167 215.06L767 -718.94M-167 -383.1L767 550.9M-167 230.3L767 -703.7M-167 -367.86L767 566.14M-167 245.54L767 -688.46M-167 -352.62L767 581.38M-167 260.78L767 -673.22M-167 -337.38L767 596.62M-167 276.02L767 -657.98M-167 -322.14L767 611.86M-167 291.26L767 -642.74M-167 -306.9L767 627.1M-167 306.5L767 -627.5M-167 -291.66L767 642.34M-167 321.74L767 -612.26M-167 -276.42L767 657.58M-167 336.98L767 -597.02M-167 -261.18L767 672.82M-167 352.22L767 -581.78M-167 -245.94L767 688.06M-167 367.46L767 -566.54M-167 -230.7L767 703.3M-167 382.7L767 -551.3M-167 -215.46L767 718.54M-167 397.94L767 -536.06M-167 -200.22L767 733.78M-167 413.18L767 -520.82M-167 -184.98L767 749.02M-167 428.42L767 -505.58M-167 -169.74L767 764.26M-167 443.66L767 -490.34M-167 -154.5L767 779.5M-167 458.9L767 -475.1M-167 -139.26L767 794.74M-167 474.14L767 -459.86M-167 -124.02L767 809.98M-167 489.38L767 -444.62M-167 -108.78L767 825.22M-167 504.62L767 -429.38M-167 -93.54L767 840.46M-167 519.86L767 -414.14M-167 -78.3L767 855.7M-167 535.1L767 -398.9M-167 -63.06L767 870.94M-167 550.34L767 -383.66M-167 -47.82L767 886.18M-167 565.58L767 -368.42M-167 -32.58L767 901.42M-167 580.82L767 -353.18M-167 -17.34L767 916.66M-167 596.06L767 -337.94M-167 -2.1L767 931.9M-167 611.3L767 -322.7M-167 13.14L767 947.14M-167 626.54L767 -307.46M-167 28.38L767 962.38M-167 641.78L767 -292.22M-167 43.62L767 977.62M-167 657.02L767 -276.98M-167 58.86L767 992.86M-167 672.26L767 -261.74M-167 74.1L767 1008.1M-167 687.5L767 -246.5M-167 89.34L767 1023.34M-167 702.74L767 -231.26M-167 104.58L767 1038.58M-167 717.98L767 -216.02M-167 119.82L767 1053.82M-167 733.22L767 -200.78M-167 135.06L767 1069.06M-167 748.46L767 -185.54M-167 150.3L767 1084.3M-167 763.7L767 -170.3M-167 165.54L767 1099.54M-167 778.94L767 -155.06M-167 180.78L767 1114.78M-167 794.18L767 -139.82M-167 196.02L767 1130.02M-167 809.42L767 -124.58M-167 211.26L767 1145.26M-167 824.66L767 -109.34M-167 226.5L767 1160.5M-167 839.9L767 -94.1M-167 241.74L767 1175.74M-167 855.14L767 -78.86M-167 256.98L767 1190.98M-167 870.38L767 -63.62M-167 272.22L767 1206.22M-167 885.62L767 -48.38M-167 287.46L767 1221.46M-167 900.86L767 -33.14M-167 302.7L767 1236.7M-167 916.1L767 -17.9M-167 317.94L767 1251.94M-167 931.34L767 -2.66M-167 333.18L767 1267.18M-167 946.58L767 12.58M-167 348.42L767 1282.42M-167 961.82L767 27.82M-167 363.66L767 1297.66M-167 977.06L767 43.06M-167 378.9L767 1312.9M-167 992.3L767 58.3M-167 394.14L767 1328.14M-167 1007.54L767 73.54M-167 409.38L767 1343.38M-167 1022.78L767 88.78M-167 424.62L767 1358.62M-167 1038.02L767 104.02M-167 439.86L767 1373.86M-167 1053.26L767 119.26M-167 455.1L767 1389.1M-167 1068.5L767 134.5M-167 470.34L767 1404.34M-167 1083.74L767 149.74M-167 485.58L767 1419.58M-167 1098.98L767 164.98M-167 500.82L767 1434.82M-167 1114.22L767 180.22M-167 516.06L767 1450.06M-167 1129.46L767 195.46M-167 531.3L767 1465.3M-167 1144.7L767 210.7M-167 546.54L767 1480.54M-167 1159.94L767 225.94M-167 561.78L767 1495.78M-167 1175.18L767 241.18M-167 577.02L767 1511.02M-167 1190.42L767 256.42M-167 592.26L767 1526.26M-167 1205.66L767 271.66M-167 607.5L767 1541.5M-167 1220.9L767 286.9M-167 622.74L767 1556.74M-167 1236.14L767 302.14M-167 637.98L767 1571.98M-167 1251.38L767 317.38M-167 653.22L767 1587.22M-167 1266.62L767 332.62M-167 668.46L767 1602.46M-167 1281.86L767 347.86"/></g>
<line x1="100" y1="369.8" x2="500" y2="369.8" stroke-width="1.6" stroke="#444"/>
<line x1="100" y1="391.3" x2="500" y2="391.3" stroke-width="1.6" stroke="#444"/>
<line x1="110.5" y1="369.6" x2="110.5" y2="391" stroke-width="1"/>
<line x1="489.5" y1="369.6" x2="489.5" y2="391" stroke-width="1"/>
<line x1="133" y1="321.5" x2="557.7" y2="321.5" stroke-width="1"/>
<line x1="133" y1="528.5" x2="557.9" y2="528.5" stroke-width="1"/>
<line x1="133.5" y1="321.4" x2="133.5" y2="642" stroke-width="1"/>
<line x1="467.5" y1="321.4" x2="467.5" y2="642" stroke-width="1"/>
<rect x="93" y="151.5" width="413.5" height="12" fill="#fff" stroke="#000" stroke-width="1.3" rx="0.8"/>
<line x1="92.4" y1="151.6" x2="506.8" y2="151.6" stroke-width="2.8"/>
<line x1="92.4" y1="163.7" x2="506.8" y2="163.7" stroke-width="1.6"/>
<rect x="118" y="151" width="5" height="1" fill="#fff" fill-opacity="0.65" stroke="none"/>
<rect x="129.5" y="151" width="5" height="1" fill="#fff" fill-opacity="0.65" stroke="none"/>
<rect x="141" y="151" width="5" height="1" fill="#fff" fill-opacity="0.65" stroke="none"/>
<rect x="174" y="151" width="5" height="1" fill="#fff" fill-opacity="0.65" stroke="none"/>
<rect x="185.5" y="151" width="5" height="1" fill="#fff" fill-opacity="0.65" stroke="none"/>
<rect x="197" y="151" width="5" height="1" fill="#fff" fill-opacity="0.65" stroke="none"/>
<rect x="230" y="151" width="5" height="1" fill="#fff" fill-opacity="0.65" stroke="none"/>
<rect x="241.5" y="151" width="5" height="1" fill="#fff" fill-opacity="0.65" stroke="none"/>
<rect x="253" y="151" width="5" height="1" fill="#fff" fill-opacity="0.65" stroke="none"/>
<rect x="286" y="151" width="5" height="1" fill="#fff" fill-opacity="0.65" stroke="none"/>
<rect x="297.5" y="151" width="5" height="1" fill="#fff" fill-opacity="0.65" stroke="none"/>
<rect x="309" y="151" width="5" height="1" fill="#fff" fill-opacity="0.65" stroke="none"/>
<rect x="342" y="151" width="5" height="1" fill="#fff" fill-opacity="0.65" stroke="none"/>
<rect x="353.5" y="151" width="5" height="1" fill="#fff" fill-opacity="0.65" stroke="none"/>
<rect x="365" y="151" width="5" height="1" fill="#fff" fill-opacity="0.65" stroke="none"/>
<rect x="398" y="151" width="5" height="1" fill="#fff" fill-opacity="0.65" stroke="none"/>
<rect x="409.5" y="151" width="5" height="1" fill="#fff" fill-opacity="0.65" stroke="none"/>
<rect x="421" y="151" width="5" height="1" fill="#fff" fill-opacity="0.65" stroke="none"/>
<rect x="454" y="151" width="5" height="1" fill="#fff" fill-opacity="0.65" stroke="none"/>
<rect x="465.5" y="151" width="5" height="1" fill="#fff" fill-opacity="0.65" stroke="none"/>
<rect x="477" y="151" width="5" height="1" fill="#fff" fill-opacity="0.65" stroke="none"/>
<line x1="99.2" y1="166.5" x2="500.6" y2="166.5" stroke-width="1.4"/>
<line x1="100.45" y1="164.8" x2="100.45" y2="596.4" stroke-width="2.7"/>
<line x1="499.55" y1="164.8" x2="499.55" y2="596.4" stroke-width="2.7"/>
<line x1="99.1" y1="595.2" x2="500.6" y2="595.2" stroke-width="2.4"/>
<line x1="111.6" y1="177.5" x2="151.6" y2="177.5" stroke-width="1"/>
<line x1="111.6" y1="185.5" x2="151.6" y2="185.5" stroke-width="1"/>
<line x1="111.6" y1="189.9" x2="151.6" y2="189.9" stroke-width="1.7"/>
<line x1="151.5" y1="177.3" x2="151.5" y2="185.5" stroke-width="1"/>
<path d="M110.5 197.7V210.5H151.5V197" fill="none" stroke="#000" stroke-width="1" stroke-dasharray="4.5 2.5"/>
<line x1="448.3" y1="177.5" x2="488.3" y2="177.5" stroke-width="1"/>
<line x1="448.3" y1="185.5" x2="488.3" y2="185.5" stroke-width="1"/>
<line x1="448.3" y1="189.9" x2="488.3" y2="189.9" stroke-width="1.7"/>
<line x1="448.5" y1="177.3" x2="448.5" y2="185.5" stroke-width="1"/>
<path d="M448.5 197.7V210.5H489.5V197" fill="none" stroke="#000" stroke-width="1" stroke-dasharray="4.5 2.5"/>
<line x1="41.3" y1="55.5" x2="455.6" y2="55.5" stroke-width="1"/>
<line x1="41.3" y1="89.5" x2="468.3" y2="89.5" stroke-width="1"/>
<line x1="41.3" y1="132.5" x2="482.3" y2="132.5" stroke-width="1"/>
<line x1="99.5" y1="51" x2="99.5" y2="165" stroke-width="1"/>
<line x1="144.5" y1="51" x2="144.5" y2="198" stroke-width="1"/>
<line x1="455.5" y1="51" x2="455.5" y2="198" stroke-width="1"/>
<line x1="130.5" y1="85" x2="130.5" y2="203.7" stroke-width="1"/>
<line x1="468.5" y1="80.6" x2="468.5" y2="203.5" stroke-width="1"/>
<line x1="117.5" y1="127" x2="117.5" y2="197.8" stroke-width="1"/>
<line x1="482.5" y1="127" x2="482.5" y2="197.8" stroke-width="1"/>
<polygon points="99.6,55.5 112.1,53.9 112.1,57.1" fill="#000" stroke="none"/>
<polygon points="144.2,55.5 131.7,53.9 131.7,57.1" fill="#000" stroke="none"/>
<polygon points="144.2,55.5 156.7,53.9 156.7,57.1" fill="#000" stroke="none"/>
<polygon points="455.6,55.5 443.1,53.9 443.1,57.1" fill="#000" stroke="none"/>
<polygon points="99.6,89.5 112.1,87.9 112.1,91.1" fill="#000" stroke="none"/>
<polygon points="130.3,89.5 117.8,87.9 117.8,91.1" fill="#000" stroke="none"/>
<polygon points="130.3,89.5 142.8,87.9 142.8,91.1" fill="#000" stroke="none"/>
<polygon points="468.3,89.5 455.8,87.9 455.8,91.1" fill="#000" stroke="none"/>
<polygon points="99.6,132.5 87.1,130.9 87.1,134.1" fill="#000" stroke="none"/>
<polygon points="117.6,132.5 130.1,130.9 130.1,134.1" fill="#000" stroke="none"/>
<polygon points="482.3,132.5 469.8,130.9 469.8,134.1" fill="#000" stroke="none"/>
<text x="0" y="0" font-size="100" transform="translate(47.42 51.51) scale(0.1971 0.1873)">66</text>
<text x="0" y="0" font-size="100" transform="translate(47.91 85.61) scale(0.1864 0.1859)">46</text>
<text x="0" y="0" font-size="100" transform="translate(48.10 127.81) scale(0.1847 0.1887)">26</text>
<text x="0" y="0" font-size="100" transform="translate(285.82 52.01) scale(0.1806 0.1915)">458</text>
<text x="0" y="0" font-size="100" transform="translate(285.82 85.71) scale(0.1806 0.1915)">498</text>
<text x="0" y="0" font-size="100" transform="translate(285.64 128.70) scale(0.1817 0.2014)">538</text>
<text x="0" y="0" font-size="100" transform="translate(534.37 18.38) scale(0.2113 0.2011)">Место крепления</text>
<text x="0" y="0" font-size="100" transform="translate(534.58 38.31) scale(0.2116 0.1855)">монтажных пластин</text>
<line x1="531" y1="43.5" x2="743.6" y2="43.5" stroke-width="1"/>
<line x1="531" y1="43.5" x2="491.3" y2="164.6" stroke-width="1"/>
<line x1="13" y1="152.5" x2="92.5" y2="152.5" stroke-width="1"/>
<line x1="39.3" y1="194.5" x2="487" y2="194.5" stroke-width="1"/>
<line x1="70.3" y1="203.5" x2="475" y2="203.5" stroke-width="1"/>
<line x1="13.3" y1="729.5" x2="557" y2="729.5" stroke-width="1.3"/>
<line x1="17.5" y1="152.3" x2="17.5" y2="729.5" stroke-width="1"/>
<polygon points="17.5,152.3 15.9,164.8 19.1,164.8" fill="#000" stroke="none"/>
<polygon points="17.5,729.5 15.9,717 19.1,717" fill="#000" stroke="none"/>
<line x1="43.5" y1="194.6" x2="43.5" y2="729.5" stroke-width="1"/>
<polygon points="43.5,194.6 41.9,207.1 45.1,207.1" fill="#000" stroke="none"/>
<polygon points="43.5,729.5 41.9,717 45.1,717" fill="#000" stroke="none"/>
<line x1="74.5" y1="203.5" x2="74.5" y2="729.5" stroke-width="1"/>
<polygon points="74.5,203.5 72.9,216 76.1,216" fill="#000" stroke="none"/>
<polygon points="74.5,729.5 72.9,717 76.1,717" fill="#000" stroke="none"/>
<text x="0" y="0" font-size="100" transform="translate(14.11 455.68) scale(0.1873 0.1933) rotate(-90)">850</text>
<text x="0" y="0" font-size="100" transform="translate(38.91 477.03) scale(0.1873 0.1929) rotate(-90)">788</text>
<text x="0" y="0" font-size="100" transform="translate(70.90 480.35) scale(0.1971 0.1854) rotate(-90)">775</text>
<line x1="99.7" y1="639.5" x2="467" y2="639.5" stroke-width="1"/>
<polygon points="99.7,639.5 112.2,637.9 112.2,641.1" fill="#000" stroke="none"/>
<polygon points="133,639.5 120.5,637.9 120.5,641.1" fill="#000" stroke="none"/>
<polygon points="133,639.5 145.5,637.9 145.5,641.1" fill="#000" stroke="none"/>
<polygon points="467,639.5 454.5,637.9 454.5,641.1" fill="#000" stroke="none"/>
<line x1="99.5" y1="684.4" x2="99.5" y2="729.5" stroke-width="1"/>
<line x1="99.5" y1="596" x2="99.5" y2="642" stroke-width="1"/>
<line x1="500.5" y1="685" x2="500.5" y2="729.5" stroke-width="1"/>
<line x1="99.7" y1="689.5" x2="500.7" y2="689.5" stroke-width="1"/>
<polygon points="99.7,689.5 112.2,687.9 112.2,691.1" fill="#000" stroke="none"/>
<polygon points="500.7,689.5 488.2,687.9 488.2,691.1" fill="#000" stroke="none"/>
<text x="0" y="0" font-size="100" transform="translate(107.31 634.81) scale(0.1954 0.1901)">50</text>
<text x="0" y="0" font-size="100" transform="translate(285.61 634.62) scale(0.1909 0.1803)">490</text>
<text x="0" y="0" font-size="100" transform="translate(285.42 684.81) scale(0.1921 0.1901)">590</text>
<text x="0" y="0" font-size="100" transform="translate(369.46 655.41) scale(0.2119 0.1947)">Водопровод</text>
<text x="0" y="0" font-size="100" transform="translate(369.46 675.80) scale(0.2124 0.2000)">Канализация</text>
<line x1="365.7" y1="680.5" x2="494.4" y2="680.5" stroke-width="1"/>
<line x1="366" y1="680.7" x2="204.5" y2="478" stroke-width="1"/>
<line x1="552.5" y1="321.4" x2="552.5" y2="729.5" stroke-width="1"/>
<polygon points="552.5,321.4 550.9,333.9 554.1,333.9" fill="#000" stroke="none"/>
<polygon points="552.5,528.4 550.9,515.9 554.1,515.9" fill="#000" stroke="none"/>
<polygon points="552.5,528.4 550.9,540.9 554.1,540.9" fill="#000" stroke="none"/>
<polygon points="552.5,729.5 550.9,717 554.1,717" fill="#000" stroke="none"/>
<text x="0" y="0" font-size="100" transform="translate(548.70 439.46) scale(0.1958 0.1875) rotate(-90)">304</text>
<text x="0" y="0" font-size="100" transform="translate(548.70 643.90) scale(0.1958 0.1941) rotate(-90)">297</text>
<path d="M687.6 163.3V150.5H702.9V152.4H1003.5V163.3Z" fill="#fff" stroke="#000" stroke-width="1.4"/>
<line x1="687.5" y1="163.3" x2="687.5" y2="596.5" stroke-width="1.3"/>
<line x1="687.8" y1="596.5" x2="974.3" y2="596.5" stroke-width="1.4"/>
<line x1="974.5" y1="163.3" x2="974.5" y2="596.5" stroke-width="1.3"/>
<path d="M974.3 166.2H986.3V368.8H974.3" fill="none" stroke="#000" stroke-width="2.2"/>
<path d="M974.3 391.7H986.3V594.4H974.3" fill="none" stroke="#000" stroke-width="2.2"/>
<pattern id="xh" patternUnits="userSpaceOnUse" width="5.5" height="5.5"><path d="M-1 -1L6.5 6.5M6.5 -1L-1 6.5" stroke="#000" stroke-width="0.9"/></pattern>
<path d="M701.8 173.9L750.4 176.6V193H701.8Z" fill="url(#xh)" stroke="#000" stroke-width="1.3"/>
<rect x="688" y="270.2" width="12.4" height="54.5" fill="url(#xh)" stroke="#000" stroke-width="1.3"/>
<path d="M687.9 530.8H700V585.6H777.4L774 596H687.9Z" fill="url(#xh)" stroke="#000" stroke-width="1.3"/>
<circle cx="694.2" cy="286.4" r="2.7" fill="#fff" stroke="#000" stroke-width="1.1"/>
<circle cx="694.2" cy="308.4" r="2.7" fill="#fff" stroke="#000" stroke-width="1.1"/>
<circle cx="694.4" cy="547.1" r="2.7" fill="#fff" stroke="#000" stroke-width="1.1"/>
<circle cx="694.4" cy="569.2" r="2.7" fill="#fff" stroke="#000" stroke-width="1.1"/>
<circle cx="722.2" cy="590.5" r="2.7" fill="#fff" stroke="#000" stroke-width="1.1"/>
<path d="M686.8 210V190L690 184V176.5H697V181.5H701.8" fill="none" stroke="#000" stroke-width="1.6"/>
<path d="M750.5 176.4C752.85 176.8 757.35 173.9 764.6 178.8C771.85 183.7 785.55 196.93 794 205.8C802.45 214.67 809.83 224.9 815.3 232C820.77 239.1 823.52 242.93 826.8 248.4C830.08 253.87 833.1 259.53 835 264.8C836.9 270.07 838.2 274.8 838.2 280C838.2 285.2 836.63 288.97 835 296C833.37 303.03 829.9 314.55 828.4 322.2C826.9 329.85 826.27 335.35 826 341.9C825.73 348.45 826.38 355.48 826.8 361.5C827.22 367.52 828.15 371.22 828.5 378C828.85 384.78 829.18 394.98 828.9 402.2C828.62 409.42 828.58 411.82 826.8 421.3C825.02 430.78 820.78 450.5 818.2 459.1C815.62 467.7 814.17 466.02 811.3 472.9C808.43 479.78 804.43 490.67 801 500.4C797.57 510.13 793.57 522.13 790.7 531.3C787.83 540.47 785.82 547.95 783.8 555.4C781.78 562.85 780.32 569.4 778.6 576C776.88 582.6 774.35 591.83 773.5 595" fill="none" stroke="#000" stroke-width="1.1"/>
<path d="M749 193V242C749 255 757 264 770.3 265" fill="none" stroke="#000" stroke-width="1.1"/>
<path d="M765.4 180.5L772.7 222.2C775 229 780 231.3 789 231.3H815.3" fill="none" stroke="#000" stroke-width="1.1"/>
<path d="M772.7 222.2C775 236 783 244.3 795.7 244.3H824.3" fill="none" stroke="#000" stroke-width="1.1"/>
<path d="M795.7 208.3L799 231.2V244.3M825 244.3V264.8M770.3 264.9H835.5" fill="none" stroke="#000" stroke-width="1.1"/>
<line x1="770.5" y1="264.9" x2="770.5" y2="402.7" stroke-width="1.2"/>
<line x1="769.3" y1="278" x2="769.3" y2="327" stroke-width="1.8"/>
<path d="M770.3 327.1H763.7V350H826" fill="none" stroke="#000" stroke-width="1.1"/>
<line x1="770.3" y1="344.8" x2="826" y2="344.8" stroke-width="1.8"/>
<path d="M797.3 350V354.1H826" fill="none" stroke="#000" stroke-width="1.6"/>
<path d="M816 354V369M816 360H828M816 368.9H828M816 369C818 375 822 377 828.4 378.7" fill="none" stroke="#000" stroke-width="1"/>
<circle cx="776.3" cy="292.4" r="2.5" fill="none" stroke="#000" stroke-width="1.8"/>
<circle cx="818.1" cy="332" r="2.5" fill="none" stroke="#000" stroke-width="1.8"/>
<circle cx="742.7" cy="504.9" r="2.5" fill="none" stroke="#000" stroke-width="1.8"/>
<line x1="699.5" y1="324.7" x2="699.5" y2="367.6" stroke-width="1"/>
<line x1="699.7" y1="364.5" x2="770.4" y2="364.5" stroke-width="1"/>
<polygon points="699.7,364.5 712.2,362.9 712.2,366.1" fill="#000" stroke="none"/>
<polygon points="770.4,364.5 757.9,362.9 757.9,366.1" fill="#000" stroke="none"/>
<line x1="688" y1="398.5" x2="770.4" y2="398.5" stroke-width="1"/>
<polygon points="688,398.5 700.5,396.9 700.5,400.1" fill="#000" stroke="none"/>
<polygon points="770.4,398.5 757.9,396.9 757.9,400.1" fill="#000" stroke="none"/>
<text x="0" y="0" font-size="100" transform="translate(723.38 359.81) scale(0.1738 0.1901)">104</text>
<text x="0" y="0" font-size="100" transform="translate(717.27 394.00) scale(0.1765 0.1929)">122</text>
<line x1="736.7" y1="473.5" x2="811.5" y2="473.5" stroke-width="1.1"/>
<line x1="736.5" y1="462.5" x2="736.5" y2="575.3" stroke-width="1.1"/>
<line x1="736.5" y1="575.3" x2="779.9" y2="575.3" stroke-width="1.8"/>
<path d="M736.5 558.3H729.6V580.2H778.2M763.5 580.7V584H777" fill="none" stroke="#000" stroke-width="1.1"/>
<line x1="687.8" y1="466.5" x2="736.5" y2="466.5" stroke-width="1"/>
<polygon points="687.8,466.5 700.3,464.9 700.3,468.1" fill="#000" stroke="none"/>
<polygon points="736.5,466.5 724,464.9 724,468.1" fill="#000" stroke="none"/>
<line x1="650.9" y1="496.5" x2="736.5" y2="496.5" stroke-width="1"/>
<polygon points="699.6,496.5 712.1,494.9 712.1,498.1" fill="#000" stroke="none"/>
<polygon points="736.5,496.5 724,494.9 724,498.1" fill="#000" stroke="none"/>
<line x1="699.5" y1="492.3" x2="699.5" y2="530.8" stroke-width="1"/>
<text x="0" y="0" font-size="100" transform="translate(702.04 461.90) scale(0.2060 0.1914)">72</text>
<text x="0" y="0" font-size="100" transform="translate(658.62 491.71) scale(0.1905 0.1914)">54</text>
</g>
</svg></body></html>
